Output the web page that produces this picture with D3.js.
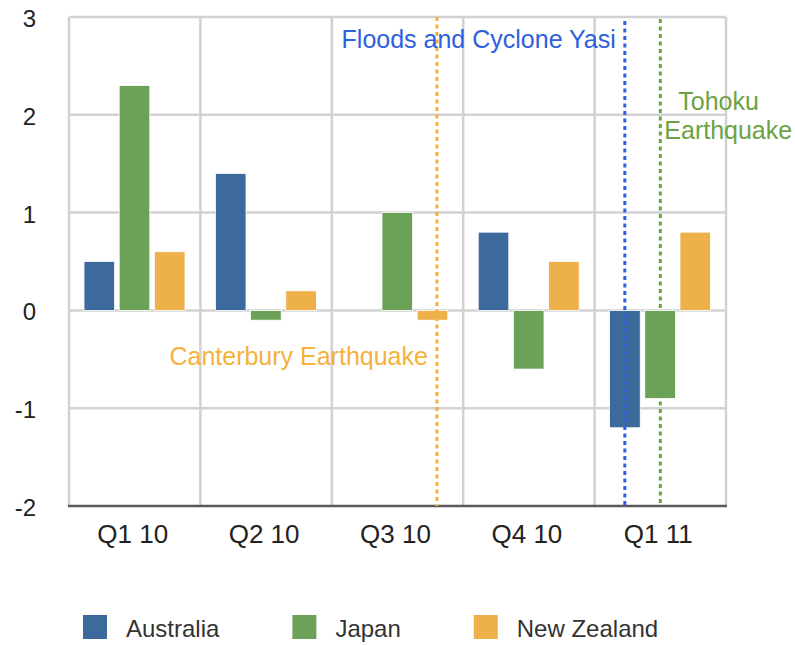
<!DOCTYPE html>
<html>
<head>
<meta charset="utf-8">
<script src="https://cdn.jsdelivr.net/npm/d3@7"></script>
<style>
  body { margin: 0; background: #fff; }
  svg text { font-family: "Liberation Sans", Arial, Helvetica, sans-serif; }
</style>
</head>
<body>
<div id="chart"></div>
<script>
const quarters = ["Q1 10", "Q2 10", "Q3 10", "Q4 10", "Q1 11"];
const seriesNames = ["Australia", "Japan", "New Zealand"];
const australia = [0.5, 1.4, 0, 0.8, -1.2];
const japan = [2.3, -0.1, 1.0, -0.6, -0.9];
const newZealand = [0.6, 0.2, -0.1, 0.5, 0.8];
const yTicks = [-2, -1, 0, 1, 2, 3];

// events: quarter + where inside the quarter the dotted line falls
const eventNames = ["Canterbury Earthquake", "Floods and Cyclone Yasi", "Tohoku Earthquake"];
const eventQuarters = ["Q3 10", "Q1 11", "Q1 11"];
const eventOffsets = [0.8, 0.23, 0.5];

const colors = {
  "Australia": "#3c6a9d",
  "Japan": "#6ca257",
  "New Zealand": "#eeb04b"
};
const eventColors = ["#f5b13c", "#2d60e0", "#6ca243"];

const width = 795, height = 645;
const plot = { left: 69, right: 726, top: 17, bottom: 506 };

const svg = d3.select("#chart").append("svg")
  .attr("width", width)
  .attr("height", height);

const x0 = d3.scaleBand()
  .domain(quarters)
  .range([plot.left, plot.right]);

const x1 = d3.scaleBand()
  .domain(seriesNames)
  .range([15, 116])
  .paddingInner(0.13);

const y = d3.scaleLinear()
  .domain([-2, 3])
  .range([plot.bottom, plot.top]);

const valuesBySeries = {
  "Australia": australia,
  "Japan": japan,
  "New Zealand": newZealand
};

// grid
const grid = svg.append("g")
  .attr("stroke", "#d2d2d2")
  .attr("stroke-width", 2.5);

grid.selectAll("line.h")
  .data(yTicks.filter(d => d > -2))
  .enter()
  .append("line")
  .attr("x1", plot.left)
  .attr("x2", plot.right)
  .attr("y1", d => y(d))
  .attr("y2", d => y(d));

const vLines = quarters.map(q => x0(q)).concat([plot.right]);
grid.selectAll("line.v")
  .data(vLines)
  .enter()
  .append("line")
  .attr("x1", d => d)
  .attr("x2", d => d)
  .attr("y1", plot.top)
  .attr("y2", plot.bottom);

// bars
const barData = [];
quarters.forEach((q, i) => {
  seriesNames.forEach(s => barData.push({ quarter: q, series: s, value: valuesBySeries[s][i] }));
});

svg.append("g")
  .selectAll("rect")
  .data(barData.filter(d => d.value !== 0))
  .enter()
  .append("rect")
  .attr("x", d => x0(d.quarter) + x1(d.series))
  .attr("width", x1.bandwidth())
  .attr("y", d => y(Math.max(0, d.value)))
  .attr("height", d => Math.abs(y(d.value) - y(0)))
  .attr("fill", d => colors[d.series])
  .attr("stroke", "#fff")
  .attr("stroke-width", 0.8);

// bottom axis line
svg.append("line")
  .attr("x1", plot.left - 1)
  .attr("x2", plot.right + 1)
  .attr("y1", plot.bottom)
  .attr("y2", plot.bottom)
  .attr("stroke", "#5a5a5a")
  .attr("stroke-width", 2.5);

// y tick labels
svg.append("g")
  .selectAll("text")
  .data(yTicks)
  .enter()
  .append("text")
  .attr("x", 36)
  .attr("y", d => y(d) + 10)
  .attr("text-anchor", "end")
  .style("font-size", "24px")
  .style("fill", "#222")
  .text(d => d);

// x labels
svg.append("g")
  .selectAll("text")
  .data(quarters)
  .enter()
  .append("text")
  .attr("x", d => x0(d) + x0.bandwidth() / 2 - 2)
  .attr("y", 543)
  .attr("text-anchor", "middle")
  .style("font-size", "26px")
  .style("fill", "#222")
  .text(d => d);

// event lines
const eventX = i => x0(eventQuarters[i]) + eventOffsets[i] * x0.bandwidth();
const eventTops = [plot.top, 21, 19];

svg.append("g")
  .selectAll("line")
  .data(eventNames)
  .enter()
  .append("line")
  .attr("x1", (d, i) => eventX(i))
  .attr("x2", (d, i) => eventX(i))
  .attr("y1", (d, i) => eventTops[i])
  .attr("y2", plot.bottom)
  .attr("stroke", (d, i) => eventColors[i])
  .attr("stroke-width", 3)
  .attr("stroke-dasharray", "4,3.5");

// event labels
svg.append("text")
  .attr("x", eventX(0) - 9)
  .attr("y", 365)
  .attr("text-anchor", "end")
  .style("font-size", "25px")
  .style("fill", eventColors[0])
  .text(eventNames[0]);

svg.append("text")
  .attr("x", eventX(1) - 9)
  .attr("y", 48)
  .attr("text-anchor", "end")
  .style("font-size", "25px")
  .style("fill", eventColors[1])
  .text(eventNames[1]);

const tohoku = eventNames[2].split(" ");
svg.append("text")
  .attr("x", eventX(2) + 18)
  .attr("y", 110)
  .style("font-size", "25px")
  .style("fill", eventColors[2])
  .text(tohoku[0]);
svg.append("text")
  .attr("x", eventX(2) + 4)
  .attr("y", 139)
  .style("font-size", "25px")
  .style("fill", eventColors[2])
  .text(tohoku[1]);

// legend
const legend = svg.append("g");
let lx = 83;
seriesNames.forEach(s => {
  legend.append("rect")
    .attr("x", lx)
    .attr("y", 615)
    .attr("width", 24)
    .attr("height", 24)
    .attr("fill", colors[s]);
  const t = legend.append("text")
    .attr("x", lx + 43)
    .attr("y", 637)
    .style("font-size", "24px")
    .style("fill", "#333")
    .text(s);
  lx += 43 + t.node().getComputedTextLength() + 73;
});
</script>
</body>
</html>
